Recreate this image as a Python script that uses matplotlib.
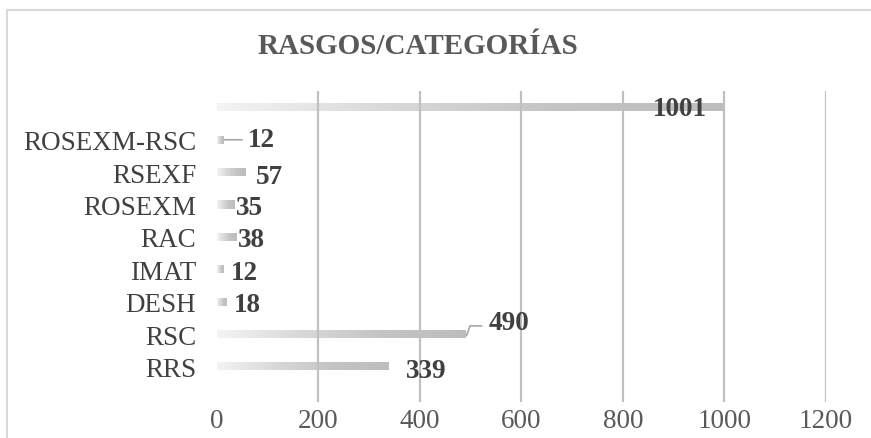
import matplotlib.pyplot as plt
import numpy as np
from matplotlib.colors import LinearSegmentedColormap
from matplotlib.patches import Rectangle

plt.rcParams['font.family'] = ['Liberation Serif', 'DejaVu Serif']

# data (bottom to top)
categories = ["RRS", "RSC", "DESH", "IMAT", "RAC", "ROSEXM", "RSEXF", "ROSEXM-RSC", ""]
values = [339, 490, 18, 12, 38, 35, 57, 12, 1001]
xticks = [0, 200, 400, 600, 800, 1000, 1200]

# label offsets in points (dx, dy)
label_offsets = [(12, -3), (17, 8), (6, -2), (6, -2), (1, -2), (1, -2), (7, -3), (18, 0), (-32, -1)]

fig = plt.figure(figsize=(8.71, 4.39), dpi=100)
ax = fig.add_axes([0.249, 0.082, 0.699, 0.708])

grad = LinearSegmentedColormap.from_list("g", ["#f4f4f4", "#d9d9d9", "#c4c4c4", "#bdbdbd"])
gimg = np.linspace(0, 1, 256).reshape(1, -1)
bar_h = 0.25

ypos = np.arange(len(categories))
bars = ax.barh(ypos, values, height=bar_h, color="none", edgecolor="none")
for b in bars:
    x0, y0 = b.get_x(), b.get_y()
    w, h = b.get_width(), b.get_height()
    im = ax.imshow(gimg, cmap=grad, aspect="auto", extent=[x0, x0 + w, y0, y0 + h],
                   zorder=2, interpolation="bicubic")
    im.set_clip_path(Rectangle((x0, y0), w, h, transform=ax.transData))

ax.set_xlim(0, 1200)
ax.set_ylim(-1.1, 8.5)
ax.set_xticks(xticks)
ax.set_yticks(ypos)
ax.set_yticklabels(categories)
ax.tick_params(axis="x", length=0, labelsize=19.5, labelcolor="#595959", pad=4)
ax.tick_params(axis="y", length=0, labelsize=19.5, labelcolor="#404040", pad=15)
for s in ax.spines.values():
    s.set_visible(False)
ax.xaxis.grid(True, color="#c0c0c0", linewidth=1.6, zorder=3)
ax.set_axisbelow(False)
ax.get_xgridlines()[0].set_visible(False)

for i, v in enumerate(values):
    dx, dy = label_offsets[i]
    ha = "center" if i == 8 else "left"
    ax.annotate(str(v), xy=(v, i), xytext=(dx, dy), textcoords="offset points",
                ha=ha, va="center", fontsize=19.5, fontweight="bold", color="#404040",
                zorder=5)

# leader lines
ax.annotate("", xy=(values[7] + 2, 7), xytext=(13, 0), textcoords="offset points",
            arrowprops=dict(arrowstyle="-", color="#a6a6a6", lw=1.2, shrinkA=0, shrinkB=0))
ax.annotate("", xy=(values[1] + 2, 1 - 0.05), xytext=(11, 7), textcoords="offset points",
            arrowprops=dict(arrowstyle="-", color="#a6a6a6", lw=1.2, shrinkA=0, shrinkB=0,
                            connectionstyle="angle,angleA=0,angleB=70,rad=0"))

fig.text(0.48, 0.893, "RASGOS/CATEGORÍAS", ha="center", va="center",
         fontsize=21, fontweight="bold", color="#595959")

# outer chart border
fig.patches.append(Rectangle((7 / 871, -0.1), 1.1, (439 - 11) / 439 + 0.1,
                             transform=fig.transFigure, fill=False,
                             edgecolor="#d9d9d9", linewidth=1.5))

fig.savefig("out.png", dpi=100)
